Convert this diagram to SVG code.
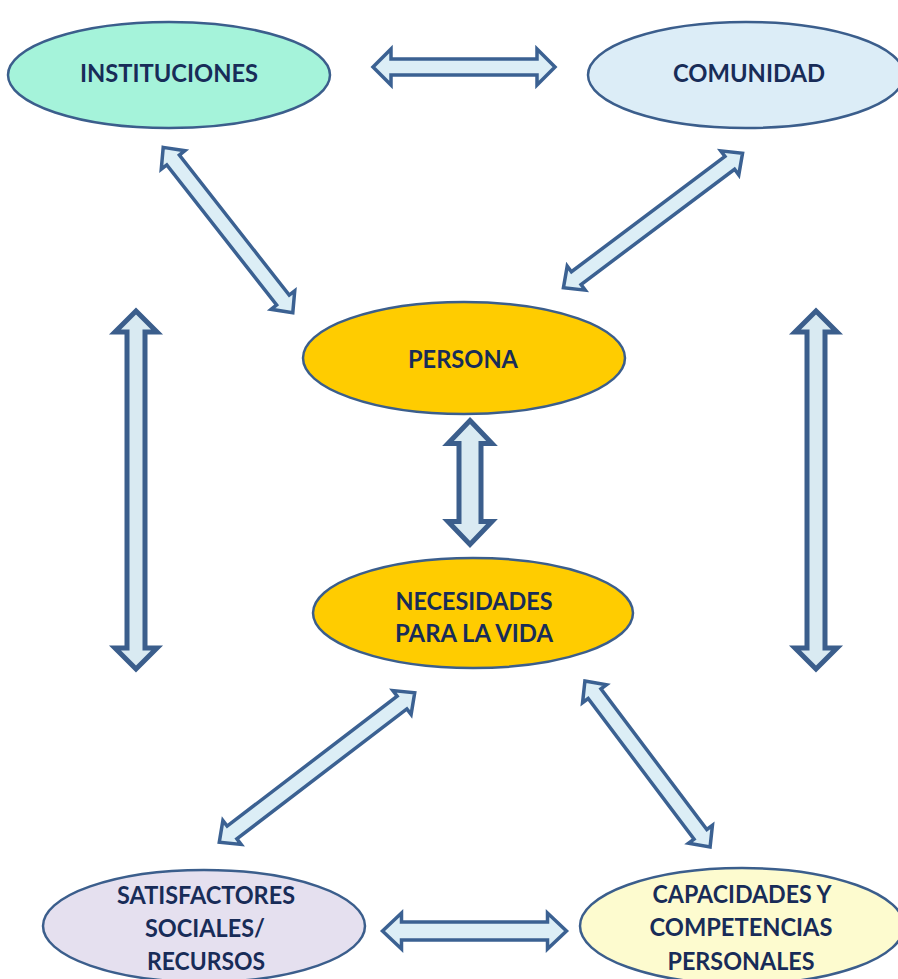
<svg xmlns="http://www.w3.org/2000/svg" width="898" height="979" viewBox="0 0 898 979">
<style>
.node ellipse{stroke:#3b5e8c;stroke-width:2.5}
.node text{font-family:Lato,"Open Sans","Liberation Sans",sans-serif;font-weight:700;font-size:24px;fill:#182c58;text-anchor:middle;dominant-baseline:central}
.thin{fill:#dceef6;stroke:#3b6192;stroke-width:3.5;stroke-linejoin:miter}
.thick{fill:#d9eaf2;stroke:#3b5e8c;stroke-width:5;stroke-linejoin:miter}
</style>
<rect width="898" height="979" fill="#ffffff"/>
<g id="connectors">
  <polygon class="thin" transform="translate(464,67)" points="-91,0 -73,-18 -73,-8 73,-8 73,-18 91,0 73,18 73,8 -73,8 -73,18"/>
  <polygon class="thin" transform="translate(228,230) rotate(51.9)" points="-105,0 -89,-15 -89,-8 89,-8 89,-15 105,0 89,15 89,8 -89,8 -89,15"/>
  <polygon class="thin" transform="translate(653,220.5) rotate(143.1)" points="-112,0 -96,-15 -96,-8 96,-8 96,-15 112,0 96,15 96,8 -96,8 -96,15"/>
  <polygon class="thin" transform="translate(317,767.5) rotate(142.6)" points="-123,0 -107,-15 -107,-8 107,-8 107,-15 123,0 107,15 107,8 -107,8 -107,15"/>
  <polygon class="thin" transform="translate(647.5,764) rotate(53)" points="-104,0 -88,-15 -88,-8 88,-8 88,-15 104,0 88,15 88,8 -88,8 -88,15"/>
  <polygon class="thin" transform="translate(474.5,931)" points="-92,0 -73,-18 -73,-9 73,-9 73,-18 92,0 73,18 73,9 -73,9 -73,18"/>
  <polygon class="thick" transform="translate(136,490)" points="0,-179 21,-158 9,-158 9,158 21,158 0,179 -21,158 -9,158 -9,-158 -21,-158"/>
  <polygon class="thick" transform="translate(816,490)" points="0,-179 21,-158 9,-158 9,158 21,158 0,179 -21,158 -9,158 -9,-158 -21,-158"/>
  <polygon class="thick" transform="translate(470,482.5)" points="0,-62 22,-39 11,-39 11,39 22,39 0,62 -22,39 -11,39 -11,-39 -22,-39"/>
</g>
<g id="instituciones" class="node">
  <ellipse cx="169" cy="75" rx="161" ry="53" fill="#a5f3da"/>
  <text x="169" y="72" textLength="178" lengthAdjust="spacingAndGlyphs">INSTITUCIONES</text>
</g>
<g id="comunidad" class="node">
  <ellipse cx="746" cy="75" rx="158" ry="53" fill="#dcedf7"/>
  <text x="749" y="72" textLength="152" lengthAdjust="spacingAndGlyphs">COMUNIDAD</text>
</g>
<g id="persona" class="node">
  <ellipse cx="464" cy="358" rx="161" ry="56" fill="#ffcc00"/>
  <text x="463" y="358" textLength="110" lengthAdjust="spacingAndGlyphs">PERSONA</text>
</g>
<g id="necesidades" class="node">
  <ellipse cx="473" cy="613" rx="160" ry="55" fill="#ffcc00"/>
  <text x="474" y="600" textLength="157" lengthAdjust="spacingAndGlyphs">NECESIDADES</text>
  <text x="474" y="632" textLength="158" lengthAdjust="spacingAndGlyphs">PARA LA VIDA</text>
</g>
<g id="satisfactores" class="node">
  <ellipse cx="204" cy="926" rx="161" ry="56" fill="#e5e0ef"/>
  <text x="206" y="894" textLength="178" lengthAdjust="spacingAndGlyphs">SATISFACTORES</text>
  <text x="205" y="927" textLength="120" lengthAdjust="spacingAndGlyphs">SOCIALES/</text>
  <text x="206" y="960" textLength="118" lengthAdjust="spacingAndGlyphs">RECURSOS</text>
</g>
<g id="capacidades" class="node">
  <ellipse cx="742" cy="926" rx="162" ry="58" fill="#fdfbcf"/>
  <text x="742" y="893" textLength="179" lengthAdjust="spacingAndGlyphs">CAPACIDADES Y</text>
  <text x="741" y="926" textLength="183" lengthAdjust="spacingAndGlyphs">COMPETENCIAS</text>
  <text x="741" y="960" textLength="147" lengthAdjust="spacingAndGlyphs">PERSONALES</text>
</g>
</svg>
